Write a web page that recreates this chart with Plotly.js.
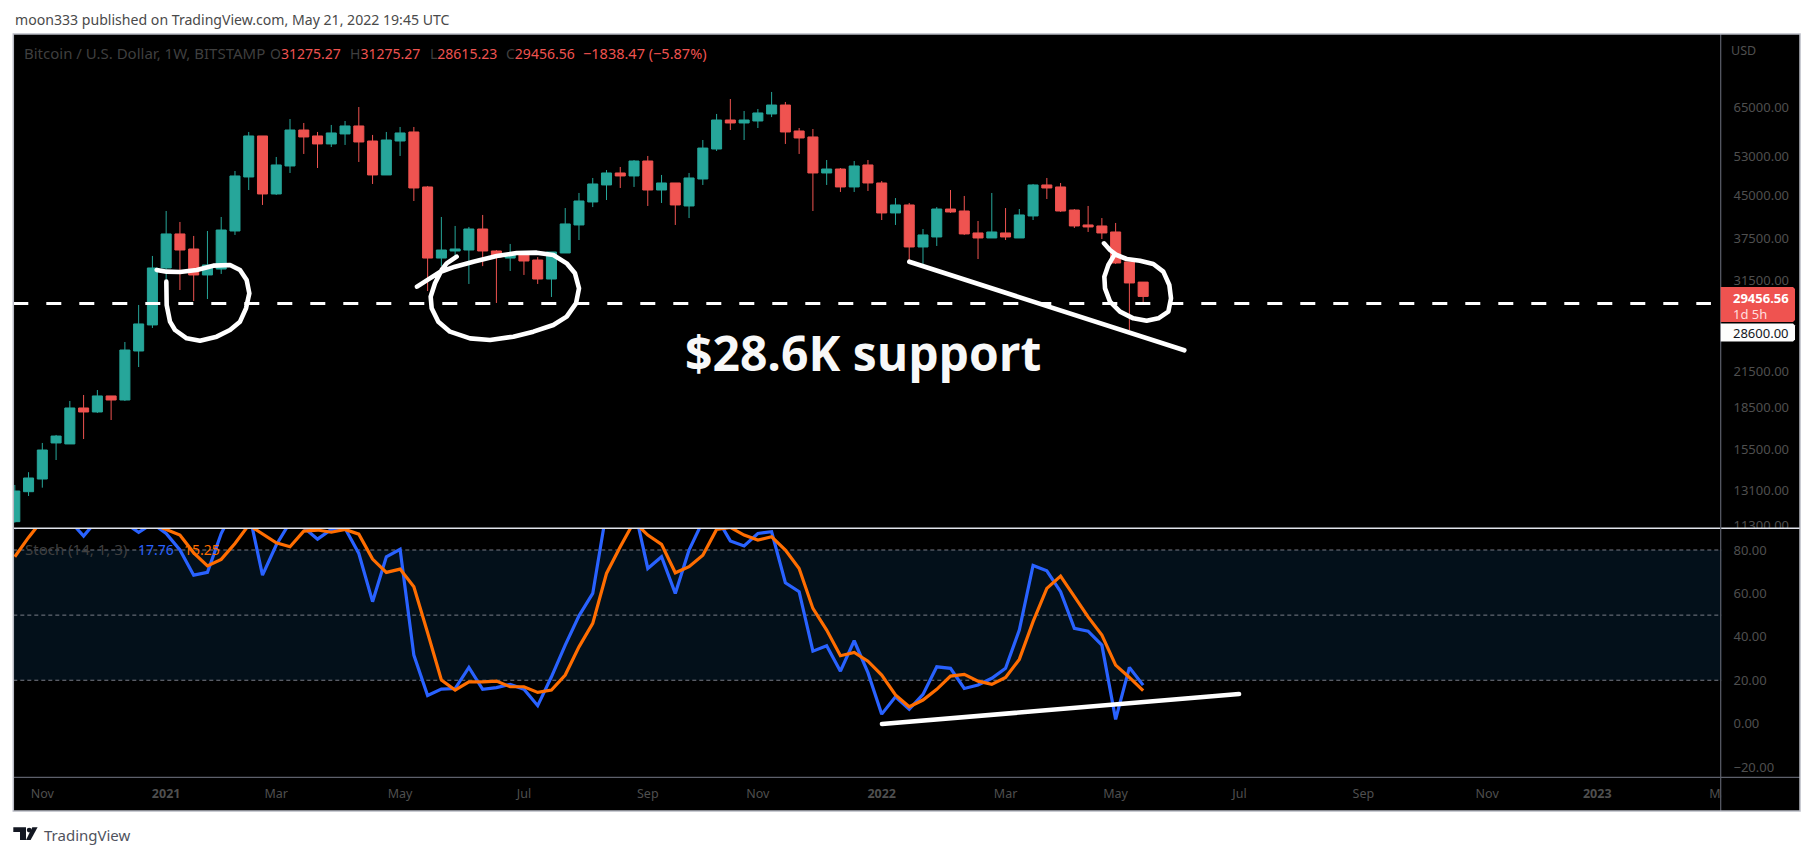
<!DOCTYPE html>
<html>
<head>
<meta charset="utf-8">
<script src="https://cdn.plot.ly/plotly-3.0.1.min.js"></script>
<style>
html,body{margin:0;padding:0;background:#fff;}
#chart{width:1813px;height:856px;}
.shapelayer path[style*="rgb(255, 255, 255)"]{stroke-linejoin:round;stroke-linecap:round;}
</style>
</head>
<body>
<div id="chart"></div>
<script>
const weeks = ["2020-10-19","2020-10-26","2020-11-02","2020-11-09","2020-11-16","2020-11-23","2020-11-30","2020-12-07","2020-12-14","2020-12-21","2020-12-28",
"2021-01-04","2021-01-11","2021-01-18","2021-01-25","2021-02-01","2021-02-08","2021-02-15","2021-02-22","2021-03-01","2021-03-08","2021-03-15","2021-03-22","2021-03-29",
"2021-04-05","2021-04-12","2021-04-19","2021-04-26","2021-05-03","2021-05-10","2021-05-17","2021-05-24","2021-05-31","2021-06-07","2021-06-14","2021-06-21","2021-06-28",
"2021-07-05","2021-07-12","2021-07-19","2021-07-26","2021-08-02","2021-08-09","2021-08-16","2021-08-23","2021-08-30","2021-09-06","2021-09-13","2021-09-20","2021-09-27",
"2021-10-04","2021-10-11","2021-10-18","2021-10-25","2021-11-01","2021-11-08","2021-11-15","2021-11-22","2021-11-29","2021-12-06","2021-12-13","2021-12-20","2021-12-27",
"2022-01-03","2022-01-10","2022-01-17","2022-01-24","2022-01-31","2022-02-07","2022-02-14","2022-02-21","2022-02-28","2022-03-07","2022-03-14","2022-03-21","2022-03-28",
"2022-04-04","2022-04-11","2022-04-18","2022-04-25","2022-05-02","2022-05-09","2022-05-16"];

const open = [11474,13008,13716,15951,15885,18467,18160,19420,19093,23441,26140,
33180,38258,35924,32224,33034,38735,48562,57655,45226,50850,59109,57655,55758,58141,60119,56454,48972,
56454,58625,46572,34587,35624,35771,39060,35624,34587,35477,34305,31679,35330,39725,43735,46965,49382,48767,51920,45982,47357,43011,
48153,54585,61635,60876,61382,63216,65625,58867,57414,49382,50202,46572,51064,47357,41770,43192,36229,37777,42463,42117,38417,37618,
38417,37618,41250,46965,46572,42290,39725,39559,38576,34023,31275];
const high = [13380,14115,15951,16495,19015,19500,19909,19420,24341,28420,34890,
42117,40224,37940,38735,41075,49792,58625,57655,52800,61888,60876,58625,60372,61382,65075,57898,58625,
59866,59866,46768,41075,39559,39393,41423,35771,36688,35477,34728,35477,42636,45415,48358,49997,50635,52134,53024,48972,47357,49382,
56686,63216,67300,64006,64545,69308,66467,59600,59355,52134,50420,51920,52134,47751,44459,43554,39060,42809,45982,44851,40390,45415,
42636,42463,47160,48358,47357,42463,43011,40888,40058,34023,31275];
const low = [11427,12778,13229,14853,15885,16216,18085,17560,19015,21920,25810,
31290,30257,28897,29135,32360,38100,45982,43192,45037,49382,53470,50420,55050,55526,51706,47160,48972,
53024,43916,30133,33441,34587,31034,33441,28660,32764,32224,31034,29388,35330,37300,42809,44097,46375,46572,43011,43554,39725,40888,
46965,54139,59109,56686,59600,62394,55758,53470,42117,46965,45604,45604,45793,40556,39725,34023,33741,36382,41770,38100,34446,37618,
37300,37618,40556,44278,41944,39226,38576,37459,33741,25592,28615];
const close = [13046,13776,15488,16420,18467,18160,19420,19093,23537,26250,33180,
38258,35771,32224,33600,38894,48767,57655,45226,51064,59109,57414,55758,58383,60119,56222,48972,56686,
58383,46375,34587,35771,35924,39060,35624,34728,35036,34164,31679,35477,39892,43916,47160,49382,48767,51920,45982,47357,43192,48358,
54808,61635,60876,61635,63480,65625,58625,57170,49382,50202,46572,50850,47357,41770,43192,36229,38100,42463,41944,38258,37618,38576,
37777,41423,46965,46375,42117,39559,39393,38417,33882,31162,29456.56];

const stochK = [90,96,96,98,93.5,86.4,94,97,92.5,88.1,92.2,87.6,80,68.4,69.7,87.6,100,98,68.4,82.3,92.8,90.4,85,89.5,90,78.4,56.2,76.9,80.3,31.6,13,15.9,16.2,25.9,15.8,16.6,18.1,15.9,8.3,21.6,36.2,49.7,60,
98,100,100,71.5,76.9,60,80,93.3,95,84.2,81.9,87.6,88.4,64.9,60.8,33.4,35.9,24.2,38.2,23.5,4.4,12.4,6.6,13.5,26.2,25.5,16.2,17.8,20.9,25.5,43.1,72.9,70.4,60.8,43.9,42.6,36.2,2,25.9,17.76];
const stochD = [76.9,85.8,93.8,96,96,93,95,97,95,93,92,89.5,86.9,78.7,72.7,75.7,83,91.5,87.6,83.3,81.5,88.7,89.2,88.2,89.5,87.3,75.8,69.7,71.2,63.1,41.9,20.1,15.5,19.3,19.3,19.6,17,17,14.4,15.5,22.4,35.4,46.2,
69.2,81.5,93,86.9,82.6,69.5,72.3,77.6,89.5,90.4,86.9,84.6,86.1,80,71.5,53.1,43.1,31.3,32.8,28.8,22.4,13.2,7.8,10.9,15.8,21.9,22.7,19.6,18.1,21.3,29.6,47,62.3,68,58.5,49.2,40.8,27,21.3,15.25];

const supportLevel = 28600;
const supportSpan = ['2020-10-18T05:40:00','2023-02-28T20:00:00'];
const priceTicks = [65000,53000,45000,37500,31500,21500,18500,15500,13100,11300];
const priceTickLabels = ["65000.00","53000.00","45000.00","37500.00","31500.00","21500.00","18500.00","15500.00","13100.00","11300.00"];
const stochTicks = [80,60,40,20,0,-20];
const stochTickLabels = ["80.00","60.00","40.00","20.00","0.00","\u221220.00"];
const dateTicks = ["2020-11-02","2021-01-04","2021-03-01","2021-05-03","2021-07-05","2021-09-06","2021-11-01","2022-01-03","2022-03-07","2022-05-02","2022-07-04","2022-09-05","2022-11-07","2023-01-02","2023-03-06"];
const dateTickLabels = ["Nov","<b>2021</b>","Mar","May","Jul","Sep","Nov","<b>2022</b>","Mar","May","Jul","Sep","Nov","<b>2023</b>","Mar"];

// ---- layout geometry (figure pixels) ----
const W = 1813, H = 856;
const L = 13.3, AX = 1720.7, PR = 1721.5, R = 1800, T = 34, DIV = 528.3, DA = 777.3, B = 811;
const px = x => x / W, py = y => 1 - y / H;
const FONT = '"Noto Sans", "Open Sans", sans-serif';
const TICKC = '#4f4f4f';

function pxPath(pts){
  return pts.map((p,i)=>(i?'L':'M')+px(p[0]).toFixed(5)+' '+py(p[1]).toFixed(5)).join(' ');
}
function stroke(pts,width){
  return {type:'path',xref:'paper',yref:'paper',path:pxPath(pts),line:{color:'#ffffff',width:width||4},layer:'above'};
}
function rectPx(x0,y0,x1,y1,fill,layer){
  return {type:'rect',xref:'paper',yref:'paper',x0:px(x0),x1:px(x1),y0:py(y1),y1:py(y0),fillcolor:fill,line:{width:0},layer:layer||'above'};
}
function linePx(x0,y0,x1,y1,color,width){
  return {type:'line',xref:'paper',yref:'paper',x0:px(x0),x1:px(x1),y0:py(y0),y1:py(y1),line:{color:color,width:width||1},layer:'above'};
}
function note(x,y,text,size,color,opts){
  return Object.assign({xref:'paper',yref:'paper',x:px(x),y:py(y),xanchor:'left',yanchor:'middle',text:text,showarrow:false,
    borderpad:0,font:{family:FONT,size:size,color:color}},opts||{});
}

// hand-drawn strokes (figure pixels)
const z1 = (X,Y)=>[X/3,70+Y/3], z2=(X,Y)=>[340+X/3,70+Y/3], z3=(X,Y)=>[1060+X/3,190+Y/3];
const circle1 = [[470,600],[500,605],[540,606],[590,600],[640,587],[690,585],[720,600],[740,630],[748,670],[738,715],[720,755],[690,780],[650,800],[600,812],[560,805],[525,780],[510,755],[500,705],[499,635]].map(p=>z1(p[0],p[1]));
const circle2 = [[231,650],[265,628],[300,606],[345,590],[400,575],[470,558],[530,549],[590,548],[640,555],[680,580],[705,610],[717,655],[708,700],[680,740],[640,765],[580,785],[520,800],[450,810],[390,805],[330,785],[295,755],[275,715],[272,680],[285,640],[305,600],[320,580],[350,560]].map(p=>z2(p[0],p[1]));
const circle3 = [[132,160],[150,180],[170,195],[200,207],[240,212],[280,222],[310,245],[328,285],[333,325],[325,365],[295,385],[260,392],[220,385],[180,365],[150,335],[135,295],[133,260],[145,225],[160,200]].map(p=>z3(p[0],p[1]));
const trendPrice = [[909.3,261.7],[1184.3,350.3]];
const trendStoch = [[882,724],[1239,694]];

const traces = [
  {type:'candlestick',x:weeks,open:open,high:high,low:low,close:close,xaxis:'x',yaxis:'y',whiskerwidth:0,
   increasing:{line:{color:'#26a69a',width:1},fillcolor:'#26a69a'},
   decreasing:{line:{color:'#ef5350',width:1},fillcolor:'#ef5350'},showlegend:false,hoverinfo:'skip'},
  {type:'scatter',mode:'lines',x:supportSpan,y:[supportLevel,supportLevel],xaxis:'x',yaxis:'y',
   line:{color:'#ffffff',width:3,dash:'15px,18px'},showlegend:false,hoverinfo:'skip'},
  {type:'scatter',mode:'lines',x:weeks,y:stochK,xaxis:'x2',yaxis:'y2',line:{color:'#2962ff',width:3.2,shape:'linear'},showlegend:false,hoverinfo:'skip'},
  {type:'scatter',mode:'lines',x:weeks,y:stochD,xaxis:'x2',yaxis:'y2',line:{color:'#ff6d00',width:3.2,shape:'linear'},showlegend:false,hoverinfo:'skip'}
];

const xRange = ['2020-10-18T05:40:00','2023-03-06T05:00:00'];
const logoPath = [
  pxPath([[13.3,827.3],[26,827.3],[26,840],[20,840],[20,832],[13.3,832]])+' Z',
  pxPath([[32.3,827.3],[37.6,827.3],[30.6,840],[26,840]])+' Z'
];
const layout = {
  width:W,height:H,margin:{l:0,r:0,t:0,b:0,pad:0},
  paper_bgcolor:'#ffffff',plot_bgcolor:'#000000',showlegend:false,dragmode:false,
  boxgap:0.27,boxgroupgap:0,
  xaxis:{type:'date',domain:[px(L),px(PR)],range:xRange,anchor:'y',showticklabels:false,showgrid:false,zeroline:false,ticks:'',rangeslider:{visible:false}},
  xaxis2:{type:'date',domain:[px(L),px(PR)],range:xRange,anchor:'y2',tickmode:'array',tickvals:dateTicks,ticktext:dateTickLabels,showgrid:false,zeroline:false,ticks:'',
    tickangle:0,ticklabelstandoff:7,tickfont:{family:FONT,size:12.5,color:TICKC}},
  yaxis:{type:'log',domain:[py(DIV),py(T)],range:[4.04767,4.94617],anchor:'x',side:'right',tickmode:'array',tickvals:priceTicks,ticktext:priceTickLabels,
    showgrid:false,zeroline:false,ticks:'',ticklabelstandoff:11,tickfont:{family:FONT,size:13,color:TICKC}},
  yaxis2:{domain:[py(DA),py(DIV)],range:[-24.7,90],anchor:'x2',side:'right',tickmode:'array',tickvals:stochTicks,ticktext:stochTickLabels,
    showgrid:false,zeroline:false,ticks:'',ticklabelstandoff:11,tickfont:{family:FONT,size:13,color:TICKC}},
  shapes:[
    rectPx(L,T,R,B,'#000000','below'),
    {type:'rect',xref:'x2 domain',yref:'y2',x0:0,x1:1,y0:20,y1:80,fillcolor:'#03101a',line:{width:0},layer:'below'},
    {type:'line',xref:'x2 domain',yref:'y2',x0:0,x1:1,y0:80,y1:80,line:{color:'#787b86',width:1,dash:'4px,3px'},layer:'below'},
    {type:'line',xref:'x2 domain',yref:'y2',x0:0,x1:1,y0:50,y1:50,line:{color:'#787b86',width:1,dash:'4px,3px'},layer:'below'},
    {type:'line',xref:'x2 domain',yref:'y2',x0:0,x1:1,y0:20,y1:20,line:{color:'#787b86',width:1,dash:'4px,3px'},layer:'below'},
    rectPx(AX+0.5,DA+0.5,R-1,B-1,'#000000'),
    rectPx(AX+1,DIV+0.5,R-1,537,'#000000'),
    linePx(L,DIV,R,DIV,'#e0e3eb',1.5),
    linePx(L,DA,R,DA,'#5d606b',1.2),
    linePx(AX,T,AX,B,'#5d606b',1.2),
    {type:'rect',xref:'paper',yref:'paper',x0:px(L),x1:px(R),y0:py(B),y1:py(T),line:{color:'#b8bac4',width:1.5},fillcolor:'rgba(0,0,0,0)',layer:'above'},
    // price tags
    {type:'path',xref:'paper',yref:'paper',path:pxPath([[AX,287],[1793,287],[1795,289],[1795,320],[1793,322],[AX,322]])+' Z',fillcolor:'#ef5350',line:{width:0},layer:'above'},
    {type:'path',xref:'paper',yref:'paper',path:pxPath([[AX,323.5],[1793,323.5],[1795,325.5],[1795,339.5],[1793,341.5],[AX,341.5]])+' Z',fillcolor:'#fdfdfd',line:{width:0},layer:'above'},
    // hand-drawn marks
    stroke(circle1,4.6),stroke(circle2,4.6),stroke(circle3,4.6),
    stroke(trendPrice,4.6),stroke(trendStoch,4.6),
    // logo
    {type:'path',xref:'paper',yref:'paper',path:logoPath[0],fillcolor:'#131722',line:{width:0},layer:'above'},
    {type:'path',xref:'paper',yref:'paper',path:logoPath[1],fillcolor:'#131722',line:{width:0},layer:'above'},
    {type:'circle',xref:'paper',yref:'paper',x0:px(26.8),x1:px(31.5),y0:py(832.4),y1:py(827.7),fillcolor:'#131722',line:{width:0},layer:'above'}
  ],
  annotations:[
    note(13.5,20,'moon333 published on TradingView.com, May 21, 2022 19:45 UTC',14.1,'#4a4a4a'),
    note(23.3,53,'Bitcoin / U.S. Dollar, 1W, BITSTAMP',15,'#3f3f3f'),
    note(269,53,'<span style="color:#3f3f3f">O</span>31275.27',14,'#ef5350'),
    note(349,53,'<span style="color:#3f3f3f">H</span>31275.27',14,'#ef5350'),
    note(428.6,53,'<span style="color:#3f3f3f">L</span>28615.23',14,'#ef5350'),
    note(505,53,'<span style="color:#3f3f3f">C</span>29456.56',14,'#ef5350'),
    note(581.6,53,'\u22121838.47 (\u22125.87%)',14.5,'#ef5350'),
    note(23.7,549,'Stoch (14, 1, 3)',15,'#3f3f3f'),
    note(137,549,'17.76',14,'#2962ff'),
    note(183,549,'15.25',14,'#ff6d00'),
    note(1730,50.7,'USD',12.5,TICKC),
    note(1732,297.5,'<b>29456.56</b>',13,'#ffffff'),
    note(1732,313.5,'1d 5h',13,'#ffdede'),
    note(1732,333,'28600.00',13,'#131722'),
    note(684,352,'$28.6K support',48,'#f8f8f8',{font:{family:'"Open Sans", sans-serif',size:48,color:'#f8f8f8',weight:700}}),
    note(43,834.5,'TradingView',15,'#50535e')
  ]
};
Plotly.newPlot('chart',traces,layout,{staticPlot:true,displayModeBar:false});
</script>
</body>
</html>
